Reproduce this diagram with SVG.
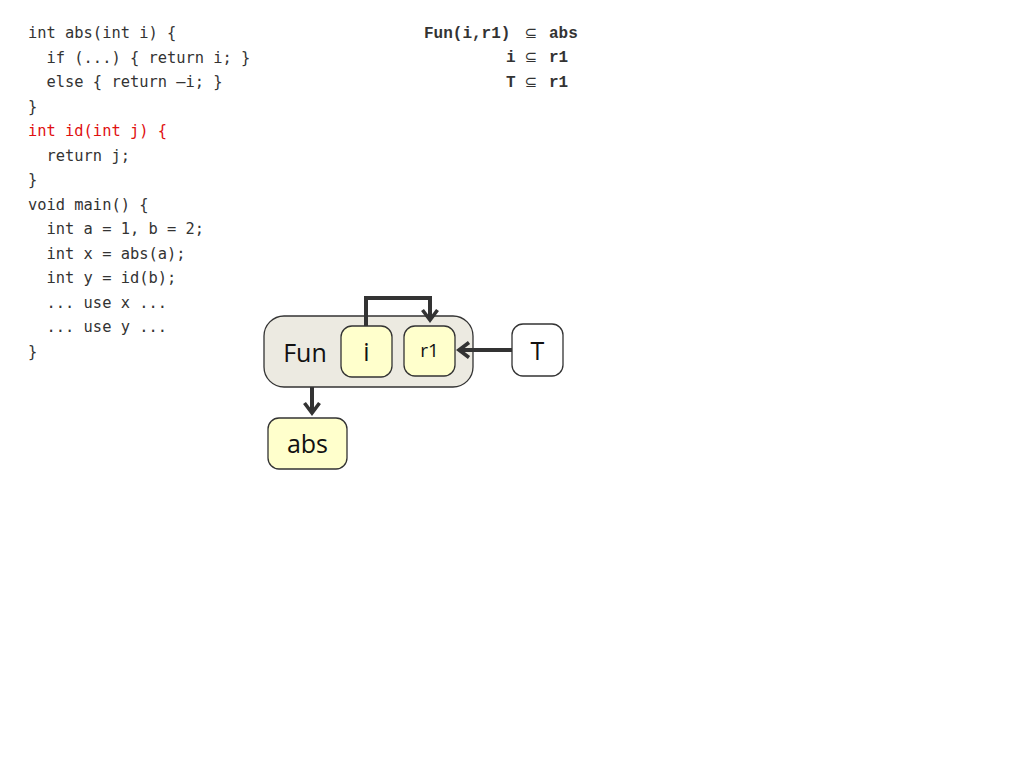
<svg xmlns="http://www.w3.org/2000/svg" width="1024" height="768" viewBox="0 0 1024 768">
<style>
.code{font-family:"DejaVu Sans Mono","Liberation Mono",monospace;font-size:15.4px;fill:#333;white-space:pre}
.red{fill:#e01010}
.rule{font-family:"Liberation Mono",monospace;font-size:16px;font-weight:bold;fill:#333}
.sub{font-family:"DejaVu Sans",sans-serif;font-size:15px;fill:#333;text-anchor:middle}
.box{stroke:#333;stroke-width:1.3}
.yel{fill:#ffffcc}
.lbl{font-family:"Open Sans","Liberation Sans",sans-serif;font-size:25px;fill:#111;text-anchor:middle;dominant-baseline:central}
.conn{fill:none;stroke:#333;stroke-width:4}
</style>
<defs>
<marker id="ah" markerWidth="16" markerHeight="18" refX="12" refY="9" orient="auto" markerUnits="userSpaceOnUse" viewBox="0 0 16 18">
<path d="M2,1.5 L12,9 L2,16.5" fill="none" stroke="#333" stroke-width="3.6"/>
</marker>
</defs>
<g id="code">
<text class="code" xml:space="preserve" x="28" y="38">int abs(int i) {</text>
<text class="code" xml:space="preserve" x="28" y="62.5">  if (...) { return i; }</text>
<text class="code" xml:space="preserve" x="28" y="87">  else { return –i; }</text>
<text class="code" xml:space="preserve" x="28" y="111.5">}</text>
<text class="code red" xml:space="preserve" x="28" y="136">int id(int j) {</text>
<text class="code" xml:space="preserve" x="28" y="160.5">  return j;</text>
<text class="code" xml:space="preserve" x="28" y="185">}</text>
<text class="code" xml:space="preserve" x="28" y="209.5">void main() {</text>
<text class="code" xml:space="preserve" x="28" y="234">  int a = 1, b = 2;</text>
<text class="code" xml:space="preserve" x="28" y="258.5">  int x = abs(a);</text>
<text class="code" xml:space="preserve" x="28" y="283">  int y = id(b);</text>
<text class="code" xml:space="preserve" x="28" y="307.5">  ... use x ...</text>
<text class="code" xml:space="preserve" x="28" y="332">  ... use y ...</text>
<text class="code" xml:space="preserve" x="28" y="356.5">}</text>
</g>
<g id="rules">
<text class="rule" x="424" y="38">Fun(i,r1)</text>
<text class="sub" x="531" y="38">⊆</text>
<text class="rule" x="549" y="38">abs</text>
<text class="rule" x="506" y="62">i</text>
<text class="sub" x="531" y="62">⊆</text>
<text class="rule" x="549" y="62">r1</text>
<text class="rule" x="506" y="87">T</text>
<text class="sub" x="531" y="87">⊆</text>
<text class="rule" x="549" y="87">r1</text>
</g>
<g id="Fun">
<rect class="box" x="264" y="316" width="209" height="71" rx="20" fill="#eceae1"/>
<text class="lbl" x="305" y="352">Fun</text>
</g>
<g id="i">
<rect class="box yel" x="341" y="326" width="51" height="51" rx="11"/>
<text class="lbl" x="366.5" y="351">i</text>
</g>
<g id="r1">
<rect class="box yel" x="404" y="326" width="51" height="50" rx="11"/>
<text class="lbl" x="429.5" y="350" style="font-size:19px">r1</text>
</g>
<g id="T">
<rect class="box" x="512" y="324" width="51" height="52" rx="11" fill="#fff"/>
<text class="lbl" x="537.5" y="350">T</text>
</g>
<g id="abs">
<rect class="box yel" x="268" y="418" width="79" height="51" rx="11"/>
<text class="lbl" x="307.5" y="443">abs</text>
</g>
<g id="connectors">
<path class="conn" d="M366,326 V298 H430 V320" marker-end="url(#ah)"/>
<path class="conn" d="M512,350 H459" marker-end="url(#ah)"/>
<path class="conn" d="M312,387 V413" marker-end="url(#ah)"/>
</g>
</svg>
